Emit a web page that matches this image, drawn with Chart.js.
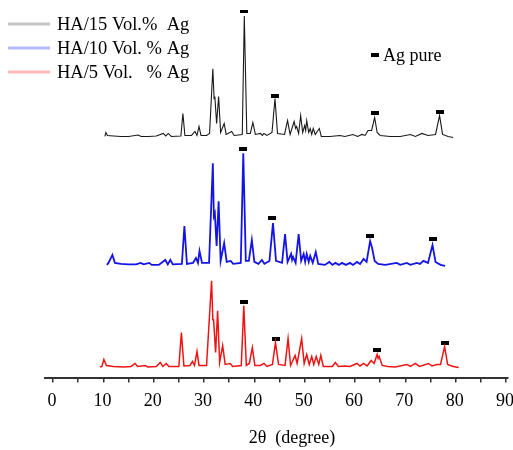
<!DOCTYPE html>
<html>
<head>
<meta charset="utf-8">
<script src="https://cdn.jsdelivr.net/npm/chart.js@4.4.1/dist/chart.umd.min.js"></script>
<style>
  body { margin: 0; background: #fff; }
  canvas { display: block; }
</style>
</head>
<body>
<canvas id="xrd" width="513" height="450"></canvas>
<script>
// XRD patterns, 2theta (deg) and intensity above each pattern's own baseline (a.u.)
const seriesLabels = ['HA/15 Vol.%  Ag', 'HA/10 Vol. % Ag', 'HA/5 Vol.   % Ag'];
const seriesOffsets = [241, 113, 11];
const xTitle = '2θ  (degree)';

const ag15Angle = [10.3, 10.5, 10.8, 12, 13.5, 15, 16.9, 17.5, 19, 20.5, 21.9, 22.4, 22.9, 23.5, 25.4, 25.8, 26.2,
  27.5, 28.2, 28.6, 29.0, 29.4, 30.5, 31.1, 31.75, 32.0, 32.15, 32.5, 32.9, 33.3, 34.0, 34.4, 35.5, 36, 37.6,
  38.0, 38.5, 39.2, 39.7, 40.2, 41.2, 41.6, 41.9, 42.5, 43.5, 44.1, 44.6, 46.0, 46.6, 47.1, 47.9, 48.2, 48.4,
  48.8, 49.2, 49.6, 50.0, 50.2, 50.4, 50.8, 51.1, 51.4, 51.7, 52.1, 52.9, 53.3, 55, 57, 58, 59.6, 60.5, 61.4,
  62.0, 62.6, 63.3, 63.9, 64.4, 65, 67, 69, 71.0, 72, 73.3, 74.5, 76, 76.8, 77.4, 78.5, 79.5];
const ag15Intensity = [2, 6, 3, 2.5, 2, 2, 3.5, 2, 2, 2.5, 5, 2.5, 5, 2, 2.5, 25, 3,
  3, 7, 3, 12, 3, 3, 5, 70, 40, 42, 15, 42, 6, 15, 4, 7, 3, 4,
  123, 5, 5, 16, 4, 5, 3, 5, 3, 6, 40, 5, 4, 18, 4, 17, 10, 12,
  5, 23, 6, 13, 8, 18, 6, 10, 4, 10, 4, 10, 2, 2, 3, 2, 4, 2, 4,
  3, 8, 8, 21, 6, 3, 2, 2, 4, 2, 5, 3, 4, 23, 4, 2, 1];

const ag10Angle = [10.7, 11.0, 11.8, 12.3, 13.5, 15, 16.5, 17.4, 18, 19.1, 19.6, 21, 22.3, 22.8, 23.3, 23.8, 25.6,
  26.1, 26.6, 27.8, 28.4, 28.8, 29.1, 29.6, 31.0, 31.75, 31.95, 32.15, 32.5, 32.9, 33.3, 34.0, 34.5, 35.3, 35.8,
  37.3, 37.8, 38.3, 38.9, 39.5, 40.0, 40.8, 41.5, 42.0, 43.0, 43.7, 44.3, 45.5, 46.1, 46.6, 47.3, 47.5, 47.7,
  48.2, 48.8, 49.3, 49.8, 50.1, 50.4, 50.8, 51.1, 51.6, 52.2, 52.7, 54.0, 54.9, 55.5, 56.1, 56.8, 57.4, 58.2,
  59.0, 59.6, 60.4, 61.0, 61.7, 62.3, 63.0, 63.4, 63.9, 64.6, 66, 68.3, 69, 70.3, 71, 72.3, 72.9, 73.6, 74.5,
  75.4, 76.0, 77.0, 77.9];
const ag10Intensity = [1, 3, 11, 3, 2, 1.5, 1.5, 3, 1.5, 3, 1, 1, 6, 1.5, 6, 1.5, 2,
  40, 2, 3, 8, 3, 15, 3, 3, 103, 50, 53, 20, 65, 5, 23, 4, 5, 2,
  3, 113, 5, 5, 26, 4, 2, 6, 2, 5, 43, 5, 3, 32, 4, 12, 6, 9,
  3, 32, 5, 12, 4, 12, 4, 10, 3, 14, 2, 1, 4, 1, 3, 1, 3, 1,
  3, 1, 4, 2, 7, 4, 25, 18, 5, 2, 1, 3, 1, 3, 1, 3, 2, 5, 3,
  21, 4, 1, 0];

const ag5Angle = [9.3, 9.7, 10.1, 10.6, 12, 14, 15.5, 16.3, 16.8, 18.3, 18.8, 20.5, 21.3, 21.8, 22.5, 23.0, 25.0,
  25.5, 26.0, 27.2, 27.7, 28.1, 28.6, 29.0, 30.5, 31.5, 31.75, 31.9, 32.3, 32.7, 33.1, 33.7, 34.2, 35.2, 35.7,
  37.4, 37.9, 38.4, 39.0, 39.6, 40.1, 41.2, 41.9, 42.5, 43.6, 44.2, 44.8, 46.1, 46.7, 47.2, 48.1, 48.5, 49.4,
  49.9, 50.4, 50.9, 51.4, 51.8, 52.3, 52.8, 53.2, 53.7, 55.5, 56.1, 56.7, 58, 59, 60.4, 61.0, 61.7, 62.4, 63.2,
  63.8, 64.4, 64.6, 64.8, 65.4, 66.5, 68, 70.3, 71, 72.0, 72.8, 74.6, 75.3, 76.3, 77.0, 77.8, 78.4, 79.5, 80.6];
const ag5Intensity = [0.5, 1, 8, 2, 1, 0.5, 1, 4, 1, 2, 0.5, 1, 5, 1, 4, 1, 1,
  35, 1.5, 2, 6, 2, 16, 2, 2, 87, 48, 48, 15, 57, 5, 22, 3, 4, 1,
  2, 62, 2, 4, 20, 2, 2, 4, 1, 3, 25, 3, 2, 29, 2, 12, 4, 29,
  4, 13, 3, 11, 3, 11, 3, 12, 1, 1, 5, 1, 1.5, 1, 4, 1.5, 4, 1.5, 7,
  4, 13, 9, 11, 2, 1, 0.5, 3, 1, 4, 1, 4, 1.5, 3, 3, 21, 3, 1, 0];

// Ag pure reflection markers, per pattern
const agMarkAngle = [[38.0, 44.1, 63.9, 76.8], [37.8, 43.6, 63.0, 75.4], [37.9, 44.3, 64.4, 77.8]];
const agMarkHeight = [[128, 43, 26, 27], [117, 48, 30, 27], [66, 29, 18, 25]];

const xTickValues = [0, 10, 20, 30, 40, 50, 60, 70, 80, 90];

const serif = '"Liberation Serif", "Times New Roman", serif';
const lineColors = ['#1a1a1a', '#1414e6', '#ee1414'];
const legendColors = ['#c4c4c4', '#b4b8ff', '#ffb8b8'];
const lineWidths = [1.1, 1.8, 1.5];

const angles = [ag15Angle, ag10Angle, ag5Angle];
const intensities = [ag15Intensity, ag10Intensity, ag5Intensity];

const agMark = document.createElement('canvas');
agMark.width = 8;
agMark.height = 4;
const mctx = agMark.getContext('2d');
mctx.fillStyle = '#000';
mctx.fillRect(0, 0, 8, 4);

const datasets = [];
angles.forEach((xs, s) => {
  datasets.push({
    label: seriesLabels[s],
    data: xs.map((x, i) => ({ x: x, y: intensities[s][i] + seriesOffsets[s] })),
    borderColor: lineColors[s],
    borderWidth: lineWidths[s],
    pointRadius: 0,
    tension: 0,
    fill: false
  });
});
agMarkAngle.forEach((xs, s) => {
  datasets.push({
    type: 'scatter',
    label: 'Ag pure',
    data: xs.map((x, i) => ({ x: x, y: agMarkHeight[s][i] + seriesOffsets[s] })),
    pointStyle: agMark,
    pointRadius: 4
  });
});

// legend drawn by hand, in the top left, the "Ag pure" key and the x title (sits right of centre)
const legendPlugin = {
  id: 'xrdLegend',
  afterDraw(chart) {
    const ctx = chart.ctx;
    ctx.save();
    ctx.font = '18.5px ' + serif;
    ctx.textBaseline = 'middle';
    seriesLabels.forEach((label, i) => {
      const y = 24 + i * 24;
      ctx.strokeStyle = legendColors[i];
      ctx.lineWidth = 3;
      ctx.beginPath();
      ctx.moveTo(8, y);
      ctx.lineTo(50, y);
      ctx.stroke();
      ctx.fillStyle = '#000';
      ctx.fillText(label, 57, y + 1);
    });
    ctx.drawImage(agMark, 371, 53);
    ctx.font = '18px ' + serif;
    ctx.fillText('Ag pure', 383, 56);
    ctx.textAlign = 'center';
    ctx.fillText(xTitle, 292, 438);
    ctx.restore();
  }
};

new Chart(document.getElementById('xrd'), {
  type: 'line',
  data: { datasets: datasets },
  options: {
    responsive: false,
    animation: false,
    layout: { padding: { left: 45, right: 5, top: 10, bottom: 30 } },
    plugins: { legend: { display: false }, tooltip: { enabled: false } },
    scales: {
      x: {
        type: 'linear',
        min: -1.6,
        max: 90.4,
        afterBuildTicks: (scale) => {
          const ticks = [];
          for (let v = 0; v <= 90; v += 5) ticks.push({ value: v });
          scale.ticks = ticks;
        },
        afterFit: (scale) => {
          scale.paddingLeft = 0;
          scale.paddingRight = 0;
        },
        border: { display: true, color: '#333', width: 2 },
        grid: { drawOnChartArea: false, drawTicks: true, tickLength: 4, color: '#333', lineWidth: 1.5 },
        ticks: {
          autoSkip: false,
          maxRotation: 0,
          padding: 8,
          labelOffset: -1,
          color: '#000',
          font: { family: serif, size: 18 },
          callback: (v) => xTickValues.includes(v) ? String(v) : ''
        },
        title: { display: false }
      },
      y: {
        display: false,
        min: 0,
        max: 370
      }
    }
  },
  plugins: [legendPlugin]
});
</script>
</body>
</html>
